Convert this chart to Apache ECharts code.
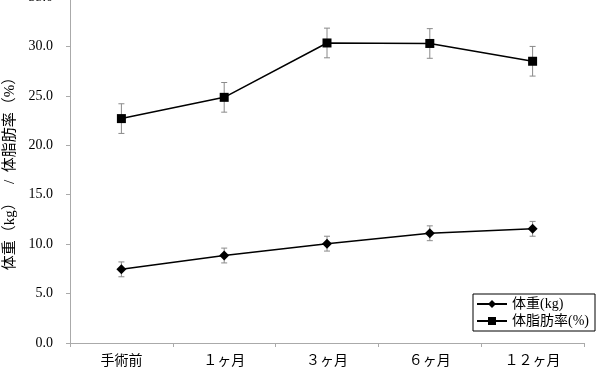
<!DOCTYPE html>
<html><head><meta charset="utf-8">
<script src="https://cdn.jsdelivr.net/npm/echarts@6/dist/echarts.min.js"></script>
<style>html,body{margin:0;padding:0;background:#fff}#c{width:610px;height:375px}</style>
</head><body><div id="c"></div>
<script>
const categories = ['手術前', '１ヶ月', '３ヶ月', '６ヶ月', '１２ヶ月'];
const weight = [7.45, 8.85, 10.05, 11.1, 11.55];
const weightErr = [0.75, 0.75, 0.75, 0.75, 0.75];
const fat = [22.7, 24.85, 30.35, 30.3, 28.5];
const fatErr = [1.5, 1.5, 1.5, 1.5, 1.5];
const yTicks = {min: 0, max: 35, interval: 5};

const FONT = "'Liberation Serif', 'Noto Sans CJK JP', serif";
const chart = echarts.init(document.getElementById('c'));

function errData(vals, errs) {
  return vals.map((v, i) => [i, v - errs[i], v + errs[i]]);
}
function errSeries(vals, errs) {
  return {
    type: 'custom', silent: true, z: 1,
    data: errData(vals, errs),
    renderItem: function (params, api) {
      const x = api.value(0);
      const lo = api.coord([x, api.value(1)]);
      const hi = api.coord([x, api.value(2)]);
      const w = 3;
      const st = {stroke: '#8a8a8a', lineWidth: 1};
      return {type: 'group', children: [
        {type: 'line', shape: {x1: lo[0], y1: lo[1], x2: hi[0], y2: hi[1]}, style: st},
        {type: 'line', shape: {x1: lo[0]-w, y1: lo[1], x2: lo[0]+w, y2: lo[1]}, style: st},
        {type: 'line', shape: {x1: hi[0]-w, y1: hi[1], x2: hi[0]+w, y2: hi[1]}, style: st}
      ]};
    }
  };
}

chart.setOption({
  animation: false,
  grid: {left: 70, right: 26, top: -3, bottom: 32, outerBoundsMode: 'none', containLabel: false},
  legend: {
    orient: 'vertical', right: 15, bottom: 44,
    borderColor: '#000', borderWidth: 1, borderRadius: 0,
    padding: [3, 6, 3, 3], itemGap: 3, itemWidth: 30, itemHeight: 10,
    textStyle: {fontFamily: FONT, fontSize: 14, color: '#000'},
    data: ['体重(kg)', '体脂肪率(%)']
  },
  xAxis: {
    type: 'category', data: categories, boundaryGap: true,
    axisLine: {lineStyle: {color: '#aaaaaa', width: 1}},
    axisTick: {show: true, length: 4, lineStyle: {color: '#aaaaaa'}},
    axisLabel: {fontFamily: FONT, fontSize: 14, color: '#000', margin: 11}
  },
  yAxis: {
    type: 'value', min: yTicks.min, max: yTicks.max, interval: yTicks.interval,
    name: '体重（kg）   /  体脂肪率（%）', nameLocation: 'middle', nameGap: 48,
    nameTextStyle: {fontFamily: FONT, fontSize: 15, color: '#000'},
    splitLine: {show: false},
    axisLine: {show: true, lineStyle: {color: '#aaaaaa', width: 1}},
    axisTick: {show: true, length: 4, lineStyle: {color: '#aaaaaa'}},
    axisLabel: {fontFamily: FONT, fontSize: 14, color: '#000', margin: 17,
      formatter: v => v.toFixed(1)}
  },
  series: [
    errSeries(weight, weightErr),
    errSeries(fat, fatErr),
    {name: '体重(kg)', type: 'line', data: weight, z: 3,
      symbol: 'diamond', symbolSize: 10,
      lineStyle: {color: '#000', width: 1.5}, itemStyle: {color: '#000'}},
    {name: '体脂肪率(%)', type: 'line', data: fat, z: 3,
      symbol: 'rect', symbolSize: 9,
      lineStyle: {color: '#000', width: 1.5}, itemStyle: {color: '#000'}}
  ]
});
</script></body></html>
